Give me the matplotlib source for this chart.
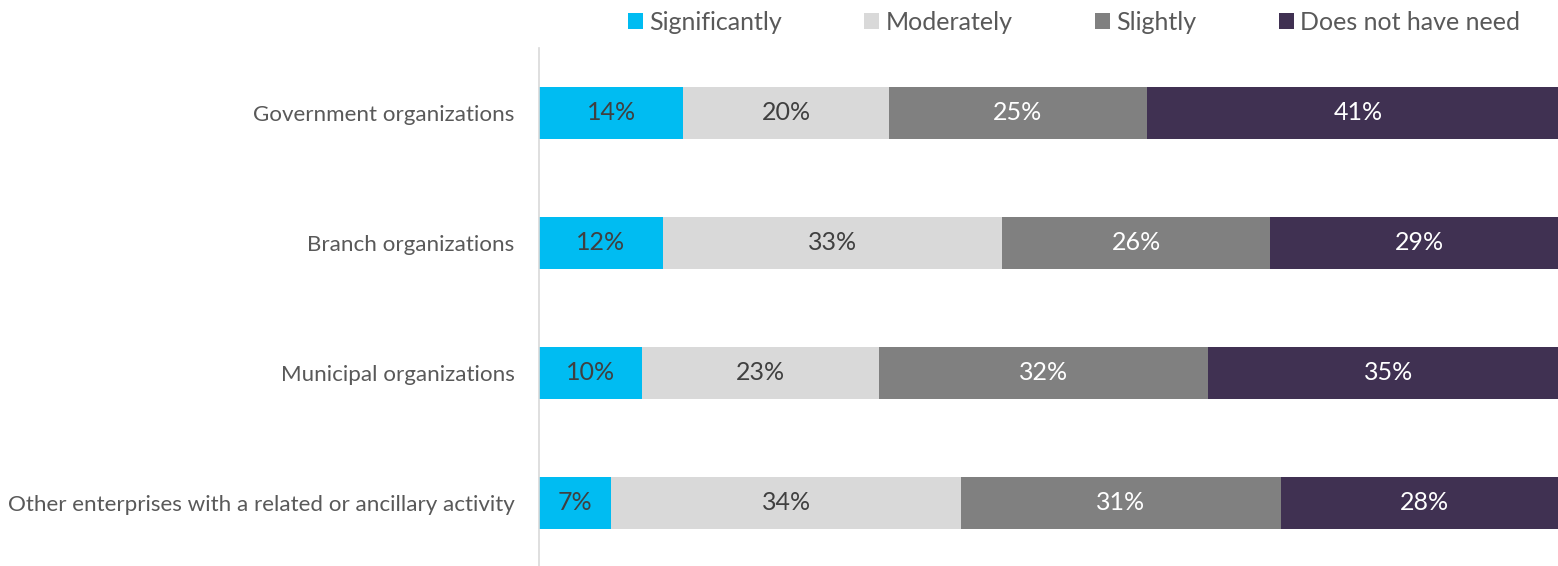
import numpy as np
import matplotlib.pyplot as plt
from matplotlib.patches import Patch

plt.rcParams['font.family'] = ['Lato', 'DejaVu Sans']

# data
categories = ["Government organizations", "Branch organizations",
              "Municipal organizations",
              "Other enterprises with a related or ancillary activity"]
series = ["Significantly", "Moderately", "Slightly", "Does not have need"]
significantly = [14, 12, 10, 7]
moderately = [20, 33, 23, 34]
slightly = [25, 26, 32, 31]
no_need = [41, 29, 35, 28]

colors = ["#00BCF2", "#D9D9D9", "#808080", "#403152"]
label_colors = ["#404040", "#404040", "white", "white"]
text_gray = "#595959"
fs = 18
fs_cat = 16.1

W, H = 1558, 566
fig = plt.figure(figsize=(W / 100, H / 100), dpi=100)
# axes runs a little past the right edge of the figure, like the original
ax = fig.add_axes([539 / W, (H - 568) / H, 1030 / W, 520 / H])

y = np.arange(len(categories))
left = np.zeros(len(categories))
for name, vals, c, lc in zip(series, [significantly, moderately, slightly, no_need],
                             colors, label_colors):
    vals = np.array(vals, dtype=float)
    bars = ax.barh(y, vals, left=left, height=0.4, color=c, label=name)
    ax.bar_label(bars, labels=["{:d}%".format(int(v)) for v in vals],
                 label_type='center', color=lc, fontsize=fs)
    left += vals

ax.set_xlim(0, 100)
ax.set_ylim(3.5, -0.5)
ax.set_yticks(y)
ax.set_yticklabels(categories, fontsize=fs_cat, color=text_gray)
ax.tick_params(axis='y', length=0, pad=17.5)
ax.set_xticks([])
for s in ['top', 'right', 'bottom']:
    ax.spines[s].set_visible(False)
ax.spines['left'].set_color('#D9D9D9')
ax.spines['left'].set_linewidth(1.2)

handles = [Patch(facecolor=c, label=n) for c, n in zip(colors, series)]
leg = fig.legend(handles=handles, loc='upper center', ncol=4,
                 bbox_to_anchor=(1074 / W, 1.021), frameon=False,
                 fontsize=fs, handlelength=0.6, handleheight=0.6,
                 handletextpad=0.25, columnspacing=3.3)
for t in leg.get_texts():
    t.set_color(text_gray)

fig.savefig("out.png", dpi=100)
